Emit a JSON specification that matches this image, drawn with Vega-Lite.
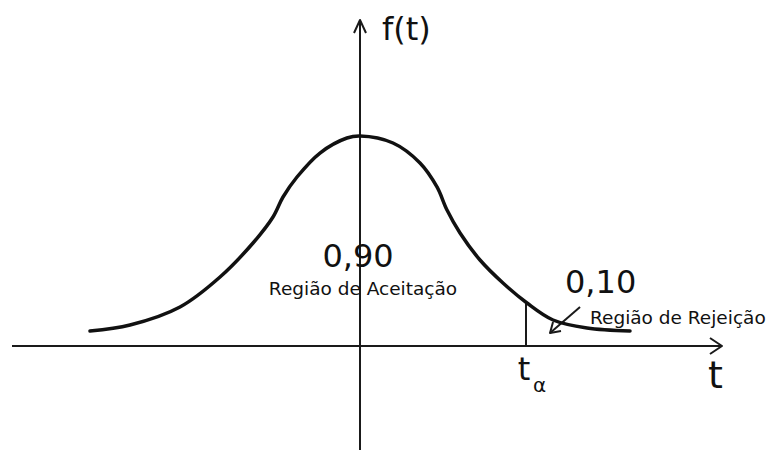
{
  "$schema": "https://vega.github.io/schema/vega-lite/v6.json",
  "width": 773,
  "height": 452,
  "padding": 0,
  "autosize": {"type": "fit", "contains": "padding"},
  "background": "white",
  "config": {"view": {"stroke": null}},
  "datasets": {
    "curve": [
      {"t": -4.5, "f": 0.0286},
      {"t": -3.833, "f": 0.04},
      {"t": -3.0, "f": 0.0743},
      {"t": -2.333, "f": 0.1314},
      {"t": -1.783, "f": 0.1962},
      {"t": -1.45, "f": 0.2457},
      {"t": -1.283, "f": 0.2838},
      {"t": -1.05, "f": 0.3219},
      {"t": -0.667, "f": 0.3676},
      {"t": -0.217, "f": 0.3962},
      {"t": 0.0, "f": 0.4},
      {"t": 0.55, "f": 0.3867},
      {"t": 1.0, "f": 0.3486},
      {"t": 1.283, "f": 0.3029},
      {"t": 1.45, "f": 0.259},
      {"t": 1.667, "f": 0.2152},
      {"t": 2.0, "f": 0.1638},
      {"t": 2.383, "f": 0.12},
      {"t": 2.783, "f": 0.0819},
      {"t": 3.217, "f": 0.0495},
      {"t": 3.783, "f": 0.0343},
      {"t": 4.5, "f": 0.0286}
    ],
    "axes": [
      {"part": "t-axis", "o": 1, "t": -5.8, "f": 0},
      {"part": "t-axis", "o": 2, "t": 6.033, "f": 0},
      {"part": "t-head", "o": 1, "t": 5.833, "f": 0.0152},
      {"part": "t-head", "o": 2, "t": 6.033, "f": 0},
      {"part": "t-head", "o": 3, "t": 5.833, "f": -0.0152},
      {"part": "f-axis", "o": 1, "t": 0, "f": -0.198},
      {"part": "f-axis", "o": 2, "t": 0, "f": 0.621},
      {"part": "f-head", "o": 1, "t": -0.1, "f": 0.5962},
      {"part": "f-head", "o": 2, "t": 0, "f": 0.621},
      {"part": "f-head", "o": 3, "t": 0.1, "f": 0.5962},
      {"part": "t-alpha", "o": 1, "t": 2.767, "f": 0},
      {"part": "t-alpha", "o": 2, "t": 2.767, "f": 0.0819},
      {"part": "pointer", "o": 1, "t": 3.667, "f": 0.0743},
      {"part": "pointer", "o": 2, "t": 3.167, "f": 0.0248},
      {"part": "pointer-head", "o": 1, "t": 3.217, "f": 0.0457},
      {"part": "pointer-head", "o": 2, "t": 3.167, "f": 0.0248},
      {"part": "pointer-head", "o": 3, "t": 3.35, "f": 0.0286}
    ]
  },
  "resolve": {"scale": {"x": "shared", "y": "shared"}},
  "encoding": {
    "x": {"field": "t", "type": "quantitative", "scale": {"domain": [-6, 6.8833], "nice": false, "zero": false}, "axis": null},
    "y": {"field": "f", "type": "quantitative", "scale": {"domain": [-0.2019, 0.65905], "nice": false, "zero": false}, "axis": null}
  },
  "layer": [
    {
      "data": {"name": "axes"},
      "mark": {"type": "line", "color": "#1a1a1a", "strokeWidth": 2, "strokeCap": "butt", "strokeJoin": "round"},
      "encoding": {
        "detail": {"field": "part"},
        "order": {"field": "o", "type": "quantitative"}
      }
    },
    {
      "data": {"name": "curve"},
      "mark": {"type": "line", "color": "#111111", "strokeWidth": 3.5, "interpolate": "catmull-rom", "strokeCap": "round"},
      "encoding": {}
    },
    {
      "data": {"values": [
        {"t": 0.3667, "f": 0.5829, "label": "f(t)"},
        {"t": 3.4167, "f": 0.101, "label": "0,10"}
      ]},
      "mark": {"type": "text", "font": "DejaVu Sans", "fontSize": 32, "align": "left", "baseline": "alphabetic", "color": "#111111"},
      "encoding": {"text": {"field": "label"}}
    },
    {
      "data": {"values": [
        {"t": -0.0333, "f": 0.1505, "label": "0,90"},
        {"t": 2.733, "f": -0.0648, "label": "t"}
      ]},
      "mark": {"type": "text", "font": "DejaVu Sans", "fontSize": 32, "align": "center", "baseline": "alphabetic", "color": "#111111"},
      "encoding": {"text": {"field": "label"}}
    },
    {
      "data": {"values": [
        {"t": 0.05, "f": 0.0971, "label": "Região de Aceitação"}
      ]},
      "mark": {"type": "text", "font": "DejaVu Sans", "fontSize": 18.5, "align": "center", "baseline": "alphabetic", "color": "#111111"},
      "encoding": {"text": {"field": "label"}}
    },
    {
      "data": {"values": [
        {"t": 3.833, "f": 0.0419, "label": "Região de Rejeição"}
      ]},
      "mark": {"type": "text", "font": "DejaVu Sans", "fontSize": 18.5, "align": "left", "baseline": "alphabetic", "color": "#111111"},
      "encoding": {"text": {"field": "label"}}
    },
    {
      "data": {"values": [
        {"t": 2.883, "f": -0.0876, "label": "α"}
      ]},
      "mark": {"type": "text", "font": "DejaVu Sans", "fontSize": 20, "align": "left", "baseline": "alphabetic", "color": "#111111"},
      "encoding": {"text": {"field": "label"}}
    },
    {
      "data": {"values": [
        {"t": 5.8, "f": -0.08, "label": "t"}
      ]},
      "mark": {"type": "text", "font": "DejaVu Sans", "fontSize": 38, "align": "left", "baseline": "alphabetic", "color": "#111111"},
      "encoding": {"text": {"field": "label"}}
    }
  ]
}
